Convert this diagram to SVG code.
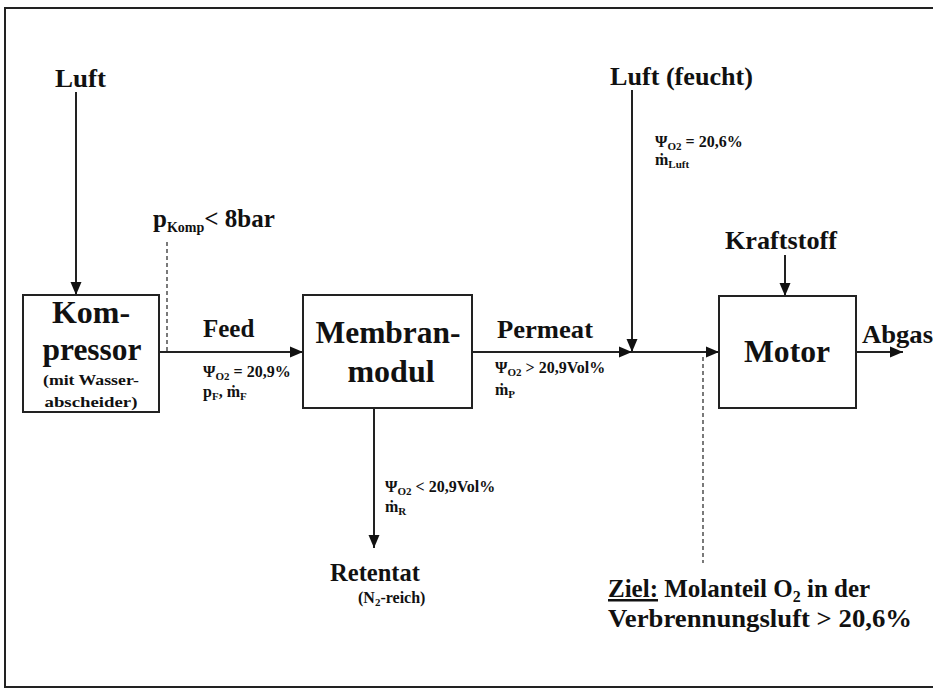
<svg xmlns="http://www.w3.org/2000/svg" width="933" height="693" viewBox="0 0 933 693" font-family="Liberation Serif, Times New Roman, serif">
<defs>
<marker id="arr" markerUnits="userSpaceOnUse" markerWidth="14" markerHeight="12" refX="13" refY="6" orient="auto">
<path d="M0,0.5 L13,6 L0,11.5 z" fill="#111"/>
</marker>
<style>
text{font-weight:bold;fill:#111}
.lg{font-size:25px}
.bx{font-size:32px;text-anchor:middle}
.sm{font-size:16px}
.sb{font-size:11px}
.box{fill:#fff;stroke:#222;stroke-width:2}
.ln{stroke:#222;stroke-width:2;fill:none}
.dash{stroke:#333;stroke-width:1.3;stroke-dasharray:4 3;fill:none}
</style>
</defs>
<rect x="0" y="0" width="933" height="693" fill="#fff"/>
<rect x="5" y="8" width="940" height="679" fill="none" stroke="#222" stroke-width="2"/>

<g id="connectors">
<line class="ln" x1="76" y1="92" x2="76" y2="295" marker-end="url(#arr)"/>
<line class="ln" x1="159" y1="352" x2="303" y2="352" marker-end="url(#arr)"/>
<line class="dash" x1="167" y1="242" x2="167" y2="351"/>
<line class="ln" x1="472" y1="352" x2="632" y2="352" marker-end="url(#arr)"/>
<line class="ln" x1="632" y1="90" x2="632" y2="352" marker-end="url(#arr)"/>
<line class="ln" x1="632" y1="352" x2="719" y2="352" marker-end="url(#arr)"/>
<line class="ln" x1="785" y1="255" x2="785" y2="296" marker-end="url(#arr)"/>
<line class="ln" x1="856" y1="352" x2="903" y2="352" marker-end="url(#arr)"/>
<line class="ln" x1="374" y1="408" x2="374" y2="548" marker-end="url(#arr)"/>
<line class="dash" x1="703" y1="357" x2="703" y2="563"/>
</g>

<g id="luft">
<text class="lg" x="55" y="87" textLength="51" lengthAdjust="spacingAndGlyphs">Luft</text>
</g>

<g id="kompressor">
<rect class="box" x="23" y="295" width="136" height="117"/>
<text class="bx" x="91" y="323" font-size="33">Kom-</text>
<text class="bx" x="92" y="360" font-size="33" textLength="99" lengthAdjust="spacingAndGlyphs">pressor</text>
<text x="91" y="385" font-size="15" text-anchor="middle" textLength="96" lengthAdjust="spacingAndGlyphs">(mit Wasser-</text>
<text x="91" y="407" font-size="15" text-anchor="middle" textLength="93" lengthAdjust="spacingAndGlyphs">abscheider)</text>
</g>

<g id="pkomp">
<text class="lg" x="153" y="227">p<tspan font-size="14" dy="5">Komp</tspan><tspan dy="-5">&lt; 8bar</tspan></text>
</g>

<g id="feed">
<text class="lg" x="203" y="337">Feed</text>
<text class="sm" x="203" y="377">Ψ<tspan class="sb" dy="3">O2</tspan><tspan dy="-3"> = 20,9%</tspan></text>
<text class="sm" x="203" y="397">p<tspan class="sb" dy="3">F</tspan><tspan dy="-3">, ṁ</tspan><tspan class="sb" dy="3">F</tspan></text>
</g>

<g id="membranmodul">
<rect class="box" x="303" y="295" width="169" height="113"/>
<text class="bx" x="388" y="343" textLength="145" lengthAdjust="spacingAndGlyphs">Membran-</text>
<text class="bx" x="391" y="382">modul</text>
</g>

<g id="permeat">
<text class="lg" x="497" y="338" textLength="96" lengthAdjust="spacingAndGlyphs">Permeat</text>
<text class="sm" x="495" y="373">Ψ<tspan class="sb" dy="3">O2</tspan><tspan dy="-3"> &gt; 20,9Vol%</tspan></text>
<text class="sm" x="495" y="395">ṁ<tspan class="sb" dy="3">P</tspan></text>
</g>

<g id="retentat">
<text class="sm" x="385" y="492">Ψ<tspan class="sb" dy="3">O2</tspan><tspan dy="-3"> &lt; 20,9Vol%</tspan></text>
<text class="sm" x="385" y="512">ṁ<tspan class="sb" dy="3">R</tspan></text>
<text class="lg" x="330" y="581" textLength="90" lengthAdjust="spacingAndGlyphs">Retentat</text>
<text x="358" y="603" font-size="16" font-weight="normal">(N<tspan class="sb" dy="3">2</tspan><tspan dy="-3">-reich)</tspan></text>
</g>

<g id="luft-feucht">
<text class="lg" x="610" y="85" textLength="143" lengthAdjust="spacingAndGlyphs">Luft (feucht)</text>
<text class="sm" x="655" y="147">Ψ<tspan class="sb" dy="3">O2</tspan><tspan dy="-3"> = 20,6%</tspan></text>
<text class="sm" x="655" y="165">ṁ<tspan class="sb" dy="3">Luft</tspan></text>
</g>

<g id="kraftstoff">
<text class="lg" x="725" y="249" textLength="112" lengthAdjust="spacingAndGlyphs">Kraftstoff</text>
</g>

<g id="motor">
<rect class="box" x="719" y="296" width="137" height="112"/>
<text class="bx" x="787" y="362" textLength="86" lengthAdjust="spacingAndGlyphs">Motor</text>
</g>

<g id="abgas">
<text class="lg" x="862" y="343" textLength="71" lengthAdjust="spacingAndGlyphs">Abgas</text>
</g>

<g id="ziel">
<text class="lg" x="608" y="597"><tspan text-decoration="underline">Ziel:</tspan> Molanteil O<tspan font-size="16" dy="5">2</tspan><tspan dy="-5"> in der</tspan></text>
<text class="lg" x="608" y="627" textLength="304" lengthAdjust="spacingAndGlyphs">Verbrennungsluft &gt; 20,6%</text>
</g>
</svg>
